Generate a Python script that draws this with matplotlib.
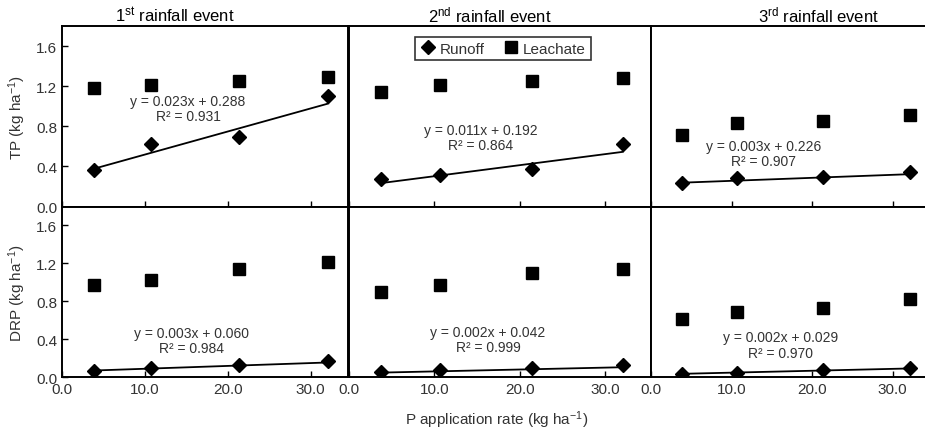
import matplotlib
matplotlib.use('Agg')
import matplotlib.pyplot as plt

plt.rcParams['font.family'] = ['Liberation Sans', 'DejaVu Sans']
plt.rcParams['mathtext.fontset'] = 'custom'
plt.rcParams['mathtext.rm'] = 'Liberation Sans'
plt.rcParams['mathtext.it'] = 'Liberation Sans:italic'

# P application rates (kg/ha), same for every event
p_rate = [3.8, 10.7, 21.4, 32.1]

# TP (kg/ha) per rainfall event
tp_runoff = [[0.36, 0.62, 0.69, 1.10],
             [0.27, 0.31, 0.37, 0.62],
             [0.23, 0.28, 0.29, 0.34]]
tp_leachate = [[1.18, 1.21, 1.25, 1.29],
               [1.14, 1.21, 1.25, 1.28],
               [0.71, 0.83, 0.85, 0.91]]

# DRP (kg/ha) per rainfall event
drp_runoff = [[0.07, 0.10, 0.13, 0.17],
              [0.06, 0.08, 0.10, 0.13],
              [0.04, 0.05, 0.08, 0.10]]
drp_leachate = [[0.97, 1.03, 1.14, 1.21],
                [0.90, 0.97, 1.10, 1.14],
                [0.61, 0.69, 0.73, 0.82]]

# linear fits of runoff
tp_slope = [0.023, 0.011, 0.003]
tp_intercept = [0.288, 0.192, 0.226]
tp_r2 = [0.931, 0.864, 0.907]
drp_slope = [0.003, 0.002, 0.002]
drp_intercept = [0.060, 0.042, 0.029]
drp_r2 = [0.984, 0.999, 0.970]

events = ['1$^{\\mathrm{st}}$ rainfall event', '2$^{\\mathrm{nd}}$ rainfall event',
          '3$^{\\mathrm{rd}}$ rainfall event']
row_labels = ['TP (kg ha$^{-1}$)', 'DRP (kg ha$^{-1}$)']

fig = plt.figure(figsize=(9.25, 4.31), dpi=100)
W, H = 925.0, 431.0

# panel edges in pixels (left, right) and (top, bottom)
col_px = [(62, 348), (349, 651), (651, 925)]
col_xmax = [34.5, 35.4, 34.0]
row_px = [(27, 207.5), (207.5, 378.3)]

# equation text position (x, y) in data units for each panel
eq_pos = [[(15.2, 0.98), (15.4, 0.69), (14.0, 0.53)],
          [(15.6, 0.385), (16.3, 0.395), (16.1, 0.34)]]
title_px = [175, 490, 818]

text_col = '#333333'

for r in range(2):
    for c in range(3):
        x0, x1 = col_px[c]
        y0, y1 = row_px[r]
        ax = fig.add_axes([x0 / W, 1 - y1 / H, (x1 - x0) / W, (y1 - y0) / H])

        if r == 0:
            run, lea = tp_runoff[c], tp_leachate[c]
            a, b, r2 = tp_slope[c], tp_intercept[c], tp_r2[c]
        else:
            run, lea = drp_runoff[c], drp_leachate[c]
            a, b, r2 = drp_slope[c], drp_intercept[c], drp_r2[c]

        ax.plot(p_rate, run, linestyle='none', marker='D', markersize=7,
                color='black', label='Runoff', zorder=3)
        ax.plot(p_rate, lea, linestyle='none', marker='s', markersize=9,
                color='black', label='Leachate', zorder=3)
        fit_x = [p_rate[0], p_rate[-1]]
        fit_y = [a * v + b for v in fit_x]
        ax.plot(fit_x, fit_y, color='black', linewidth=1.3, zorder=2)

        ex, ey = eq_pos[r][c]
        ax.text(ex, ey, f'y = {a:.3f}x + {b:.3f}\nR² = {r2:.3f}', ha='center',
                va='center', fontsize=10, color=text_col, linespacing=1.1)

        ax.set_xlim(0, col_xmax[c])
        ax.set_ylim(0, 1.8)
        ax.set_xticks([0, 10, 20, 30])
        ax.set_yticks([0, 0.4, 0.8, 1.2, 1.6])
        ax.tick_params(direction='in', length=4, width=1, colors='black',
                       labelcolor=text_col, labelsize=11)
        ax.xaxis.set_major_formatter(plt.FormatStrFormatter('%.1f'))
        ax.yaxis.set_major_formatter(plt.FormatStrFormatter('%.1f'))
        if r == 0:
            ax.tick_params(labelbottom=False)
        if c != 0:
            ax.tick_params(labelleft=False, left=False)
        else:
            ax.set_ylabel(row_labels[r], fontsize=11, color=text_col, labelpad=6)
        for s in ax.spines.values():
            s.set_linewidth(1.4)
        if c == 2:
            ax.spines['right'].set_visible(False)

        if r == 0 and c == 1:
            leg = ax.legend(loc='upper center', ncol=2, fontsize=11, frameon=True,
                            fancybox=False, edgecolor='black', handletextpad=0.3,
                            columnspacing=1.2, borderpad=0.3, handlelength=1.0,
                            bbox_to_anchor=(0.51, 0.98))
            leg.get_frame().set_linewidth(1.2)
            for t in leg.get_texts():
                t.set_color(text_col)

for c in range(3):
    fig.text(title_px[c] / W, 1 - 15 / H, events[c], ha='center', va='center',
             fontsize=12, color='black')

fig.text(497 / W, 1 - 420 / H, 'P application rate (kg ha$^{-1}$)', ha='center',
         va='center', fontsize=11, color=text_col)

fig.savefig('out.png', dpi=100)
